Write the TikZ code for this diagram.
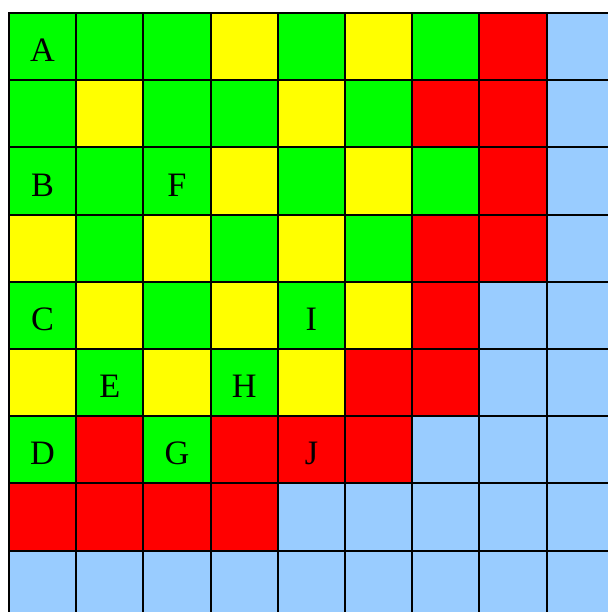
\documentclass[tikz,border=0pt]{standalone}
\usepackage{fontspec}
\setmainfont{Liberation Serif}
\usetikzlibrary{positioning}

\definecolor{colG}{RGB}{0,255,0}
\definecolor{colY}{RGB}{255,255,0}
\definecolor{colR}{RGB}{255,0,0}
\definecolor{colB}{RGB}{153,204,255}

\begin{document}
\begin{tikzpicture}[
    x=1cm, y=-1cm,
    cell/.style={
        draw=black, line width=0.85pt,
        minimum size=1cm, inner sep=0pt,
    },
    letter/.style={font=\fontsize{14.5}{17}\selectfont, inner sep=0pt, yshift=-1.7pt},
]

% ============ FRAME ============
\useasboundingbox (-0.134,-0.193) rectangle (8.899,8.914);

% ============ CELLS ============
% one row per line, colours left to right
\foreach \row/\cols in {
    0/{G,G,G,Y,G,Y,G,R,B},
    1/{G,Y,G,G,Y,G,R,R,B},
    2/{G,G,G,Y,G,Y,G,R,B},
    3/{Y,G,Y,G,Y,G,R,R,B},
    4/{G,Y,G,Y,G,Y,R,B,B},
    5/{Y,G,Y,G,Y,R,R,B,B},
    6/{G,R,G,R,R,R,B,B,B},
    7/{R,R,R,R,B,B,B,B,B},
    8/{B,B,B,B,B,B,B,B,B}} {
    \foreach \c [count=\col from 0] in \cols {
        \node[cell, fill=col\c] (c-\row-\col) at (\col+0.5, \row+0.5) {};
    }
}

% ============ LABELS ============
\foreach \lab/\row/\col in {A/0/0, B/2/0, F/2/2, C/4/0, I/4/4,
                            E/5/1, H/5/3, D/6/0, G/6/2, J/6/4} {
    \node[letter] (l-\lab) at (c-\row-\col) {\lab};
}

\end{tikzpicture}
\end{document}
